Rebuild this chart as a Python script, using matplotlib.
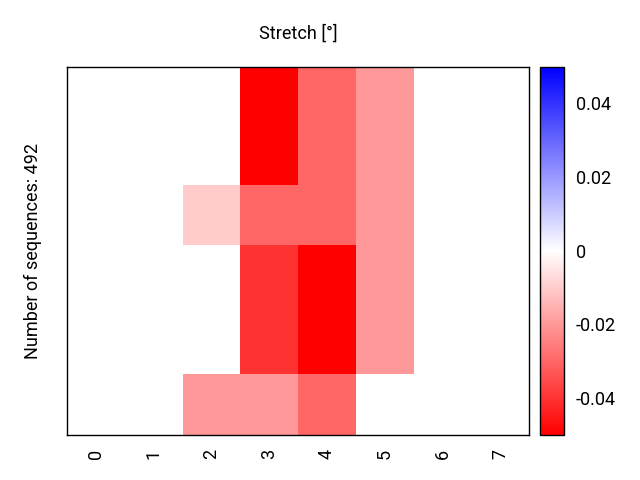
import numpy as np
import matplotlib
matplotlib.use("Agg")
import matplotlib.pyplot as plt
from matplotlib.colors import LinearSegmentedColormap

plt.rcParams['font.family'] = ['Roboto', 'DejaVu Sans']
plt.rcParams['axes.unicode_minus'] = False

# columns 0..7, row groups from top to bottom (sequence counts per group)
columns = [0, 1, 2, 3, 4, 5, 6, 7]
row_counts = [158, 80, 173, 81]
stretch = np.array([
    [0, 0, 0.00, -0.05, -0.03, -0.02, 0, 0],
    [0, 0, -0.01, -0.03, -0.03, -0.02, 0, 0],
    [0, 0, 0.00, -0.04, -0.05, -0.02, 0, 0],
    [0, 0, -0.02, -0.02, -0.03, 0.00, 0, 0],
])

x_edges = np.arange(len(columns) + 1) - 0.5
y_edges = np.concatenate([[0], np.cumsum(row_counts)])

cmap = LinearSegmentedColormap.from_list('rwb', ['red', 'white', 'blue'], N=257)

fig = plt.figure(figsize=(6.4, 4.8), dpi=100)
ax = fig.add_axes([0.1047, 0.09375, 0.7219, 0.7677])
cax = fig.add_axes([0.8438, 0.09375, 0.0367, 0.7677])

mesh = ax.pcolormesh(x_edges, y_edges, stretch, cmap=cmap, vmin=-0.05, vmax=0.05)
ax.set_xlim(x_edges[0], x_edges[-1])
ax.set_ylim(y_edges[-1], 0)
ax.set_xticks(columns)
ax.set_xticklabels([str(c) for c in columns], rotation=90, fontsize=13)
ax.set_yticks([])
ax.tick_params(axis='x', length=0, pad=10)
for s in ax.spines.values():
    s.set_linewidth(1.0)

ax.set_title("Stretch [°]", fontsize=13, pad=20)
ax.set_ylabel(f"Number of sequences: {sum(row_counts)}", fontsize=13, labelpad=18)

cb = fig.colorbar(mesh, cax=cax, ticks=[-0.04, -0.02, 0, 0.02, 0.04])
cb.ax.set_yticklabels(["-0.04", "-0.02", "0", "0.02", "0.04"])
cb.ax.tick_params(length=0, pad=9, labelsize=13)
cb.outline.set_linewidth(1.0)

fig.savefig("out.png", dpi=100)
